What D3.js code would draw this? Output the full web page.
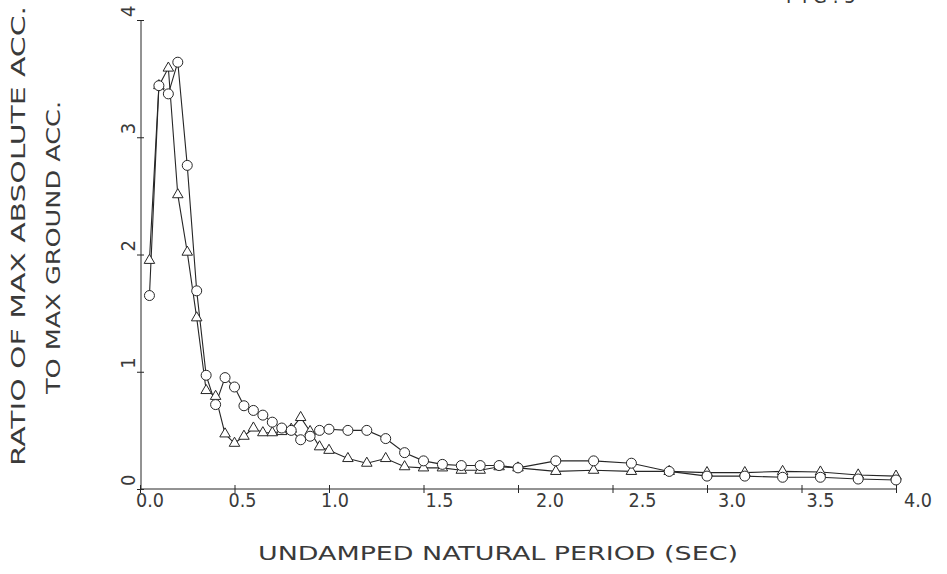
<!DOCTYPE html>
<html>
<head>
<meta charset="utf-8">
<script src="https://cdn.jsdelivr.net/npm/d3@7/dist/d3.min.js"></script>
<style>
  html, body { margin: 0; padding: 0; background: #fff; }
  svg { display: block; }
  text { font-family: "DejaVu Sans Condensed", "DejaVu Sans", sans-serif; fill: #3a3a3a; }
</style>
</head>
<body>
<svg id="chart" width="947" height="574"></svg>
<script>
// Undamped natural period (sec)
const periods = [
  0.05, 0.10, 0.15, 0.20, 0.25, 0.30, 0.35, 0.40, 0.45, 0.50,
  0.55, 0.60, 0.65, 0.70, 0.75, 0.80, 0.85, 0.90, 0.95, 1.00,
  1.1, 1.2, 1.3, 1.4, 1.5, 1.6, 1.7, 1.8, 1.9, 2.0,
  2.2, 2.4, 2.6, 2.8, 3.0, 3.2, 3.4, 3.6, 3.8, 4.0
];
// Ratio of max absolute acc. to max ground acc. (circle markers)
const ratioCircle = [
  1.65, 3.44, 3.37, 3.64, 2.76, 1.69, 0.97, 0.72, 0.95, 0.87,
  0.71, 0.67, 0.63, 0.57, 0.52, 0.50, 0.42, 0.45, 0.50, 0.51,
  0.50, 0.50, 0.43, 0.31, 0.24, 0.21, 0.20, 0.20, 0.20, 0.18,
  0.24, 0.24, 0.22, 0.15, 0.11, 0.11, 0.10, 0.10, 0.085, 0.077
];
// Same ratio, triangle markers
const ratioTriangle = [
  1.95, 3.44, 3.59, 2.51, 2.02, 1.46, 0.84, 0.79, 0.47, 0.39,
  0.45, 0.52, 0.48, 0.48, 0.49, 0.51, 0.61, 0.49, 0.36, 0.33,
  0.26, 0.22, 0.26, 0.19, 0.18, 0.18, 0.16, 0.16, 0.19, 0.18,
  0.15, 0.16, 0.15, 0.15, 0.14, 0.14, 0.15, 0.145, 0.12, 0.11
];
const xTicks = [0, 0.5, 1.0, 1.5, 2.0, 2.5, 3.0, 3.5, 4.0];
const xTickLabels = ["0.0", "0.5", "1.0", "1.5", "2.0", "2.5", "3.0", "3.5", "4.0"];
const yTicks = [0, 1, 2, 3, 4];
const yTickLabels = ["0", "1", "2", "3", "4"];
const xTitle = "UNDAMPED NATURAL PERIOD (SEC)";
const yTitle1 = "RATIO OF MAX ABSOLUTE ACC.";
const yTitle2 = "TO MAX GROUND ACC.";
const cornerNote = "F I G . 5";

const svg = d3.select("#chart");
const ink = "#262626";

const x = d3.scaleLinear().domain([0, 4]).range([140, 896]);
const y = d3.scaleLinear().domain([0, 4]).range([489, 20]);

// Axes: plain lines with ticks crossing them, labels set by hand below
const xAxis = d3.axisBottom(x).tickValues(xTicks).tickSize(4).tickFormat("");
const gx = svg.append("g").attr("transform", `translate(0,${y(0)})`).call(xAxis);
gx.select(".domain").attr("d", `M${x(0)},0H${x(4)}`).attr("stroke", ink);
gx.selectAll(".tick line").attr("y1", -4).attr("y2", 4).attr("stroke", ink);

const yAxis = d3.axisLeft(y).tickValues(yTicks).tickSize(4).tickFormat("");
const gy = svg.append("g").attr("transform", `translate(${x(0) + 1},0)`).call(yAxis);
gy.select(".domain").attr("d", `M0,${y(0)}V${y(4)}`).attr("stroke", ink);
gy.selectAll(".tick line").attr("x1", -4).attr("x2", 3).attr("stroke", ink);

// X tick labels (plotter placement drifts slightly right of each tick)
const xLabelNudge = [10, 8, 6, 16, 32, 30, 25, 19, 22];
svg.append("g").selectAll("text").data(xTicks).join("text")
  .attr("x", (d, i) => x(d) + xLabelNudge[i])
  .attr("y", 507)
  .attr("text-anchor", "middle")
  .attr("font-size", 20)
  .attr("textLength", 28)
  .attr("lengthAdjust", "spacingAndGlyphs")
  .text((d, i) => xTickLabels[i]);

// Y tick labels, rotated, sitting just above each tick
svg.append("g").selectAll("text").data(yTicks).join("text")
  .attr("transform", d => `translate(135,${y(d) - 3}) rotate(-90)`)
  .attr("text-anchor", "start")
  .attr("font-size", 20)
  .text((d, i) => yTickLabels[i]);

// Axis titles
svg.append("text")
  .attr("x", 258).attr("y", 560)
  .attr("font-size", 20)
  .attr("textLength", 480)
  .attr("lengthAdjust", "spacingAndGlyphs")
  .text(xTitle);

svg.append("text")
  .attr("transform", "translate(25,466) rotate(-90)")
  .attr("font-size", 20)
  .attr("textLength", 460)
  .attr("lengthAdjust", "spacingAndGlyphs")
  .text(yTitle1);

svg.append("text")
  .attr("transform", "translate(60,394) rotate(-90)")
  .attr("font-size", 20)
  .attr("textLength", 293)
  .attr("lengthAdjust", "spacingAndGlyphs")
  .text(yTitle2);

// Figure note at the top edge of the sheet
svg.append("text")
  .attr("x", 786).attr("y", 3)
  .attr("font-size", 20)
  .text(cornerNote);

// Series
const circlePts = periods.map((p, i) => [p, ratioCircle[i]]);
const trianglePts = periods.map((p, i) => [p, ratioTriangle[i]]);
const line = d3.line().x(d => x(d[0])).y(d => y(d[1]));

svg.append("path").datum(trianglePts)
  .attr("d", line).attr("fill", "none").attr("stroke", ink).attr("stroke-width", 1.1);
svg.append("path").datum(circlePts)
  .attr("d", line).attr("fill", "none").attr("stroke", ink).attr("stroke-width", 1.1);

const tri = d3.symbol().type(d3.symbolTriangle).size(48);
svg.append("g").selectAll("path").data(trianglePts).join("path")
  .attr("transform", d => `translate(${x(d[0])},${y(d[1])})`)
  .attr("d", tri)
  .attr("fill", "#fff").attr("stroke", ink).attr("stroke-width", 1);

svg.append("g").selectAll("circle").data(circlePts).join("circle")
  .attr("cx", d => x(d[0])).attr("cy", d => y(d[1]))
  .attr("r", 5)
  .attr("fill", "#fff").attr("stroke", ink).attr("stroke-width", 1);
</script>
</body>
</html>
